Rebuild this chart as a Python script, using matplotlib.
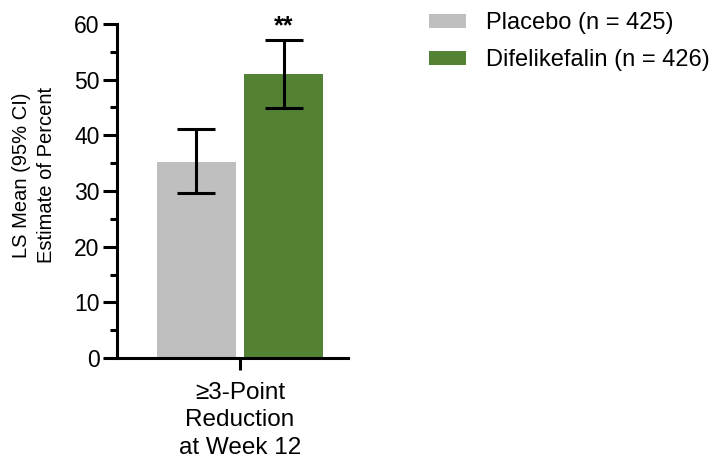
import matplotlib
matplotlib.use("Agg")
import matplotlib.pyplot as plt
from matplotlib.ticker import MultipleLocator

plt.rcParams['font.family'] = ['Liberation Sans', 'DejaVu Sans']

groups = ["Placebo (n = 425)", "Difelikefalin (n = 426)"]
means = [35.2, 51.0]
ci_low = [29.6, 44.9]
ci_high = [41.1, 57.1]
colors = ["#BFBFBF", "#548235"]
category = "≥3-Point\nReduction\nat Week 12"
significance = "**"

fig = plt.figure(figsize=(7.15, 4.57), dpi=100)
ax = fig.add_axes([0.1636, 0.2166, 0.4867 - 0.1636, 0.9475 - 0.2166])

positions = [-0.5, 0.5]
for pos, m, lo, hi, c, g in zip(positions, means, ci_low, ci_high, colors, groups):
    ax.bar(pos, m, width=0.903, color=c, label=g, zorder=1)
    ax.errorbar(pos, m, yerr=[[m - lo], [hi - m]], fmt='none', ecolor='black',
                elinewidth=2.2, capsize=13.5, capthick=2.2, zorder=3)

ax.text(positions[1], ci_high[1] + 0.4, significance, ha='center', va='bottom',
        fontsize=18, fontweight='bold')

ax.set_xlim(-1.406, 1.234)
ax.set_ylim(0, 60)
ax.yaxis.set_major_locator(MultipleLocator(10))
ax.yaxis.set_minor_locator(MultipleLocator(5))
ax.set_xticks([0])
ax.set_xticklabels([category], fontsize=17.5, linespacing=1.32)

for s in ['top', 'right']:
    ax.spines[s].set_visible(False)
for s in ['left', 'bottom']:
    ax.spines[s].set_linewidth(2.2)

ax.tick_params(axis='y', which='major', length=10, width=2.2, labelsize=16.5, pad=2.5)
ax.tick_params(axis='y', which='minor', length=5, width=2.2)
ax.tick_params(axis='x', which='major', length=8.5, width=2.2, pad=8.5)

fig.text(34 / 715, 1 - 175 / 457, "LS Mean (95% CI)\nEstimate of Percent",
         rotation=90, ha='center', va='center', fontsize=14.5, linespacing=1.4)

handles, labels = ax.get_legend_handles_labels()
fig.legend(handles, labels, loc='upper left', bbox_to_anchor=(0.6, 0.973),
           frameon=False, fontsize=17, handlelength=1.57, handleheight=0.5,
           handletextpad=0.85, labelspacing=0.63, borderpad=0, borderaxespad=0)

fig.savefig("out.png", dpi=100)
